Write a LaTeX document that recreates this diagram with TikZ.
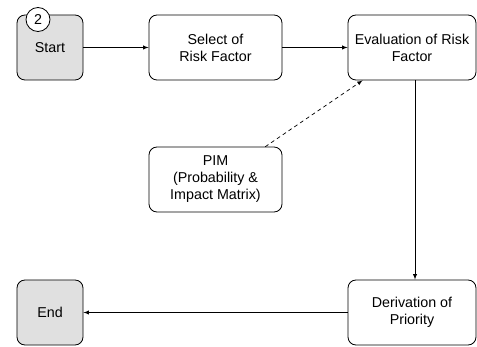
\documentclass[tikz,border=0pt]{standalone}
\usepackage{fontspec}
\setmainfont{Liberation Sans}
\usetikzlibrary{arrows}

\tikzset{
  stepbox/.style={draw, rounded corners=0.24cm, line width=0.7pt, fill=white,
    align=center, minimum height=1.95cm, font=\fontsize{12.2}{14.5}\selectfont},
  termbox/.style={stepbox, fill=termgray, minimum width=1.98cm},
  flow/.style={->, line width=0.6pt}
}
\definecolor{termgray}{RGB}{224,224,224}

\begin{document}
\begin{tikzpicture}[line cap=round, line join=round, >=latex, x=0.03cm, y=-0.03cm]

  % Khung ảnh
  \useasboundingbox (0,0) rectangle (477,347);

  % Các khối hàng trên
  \node[termbox] (start) at (50,47.5) {Start};
  \node[stepbox, minimum width=3.99cm] (select) at (215.5,47.5) {Select of\\Risk Factor};
  \node[stepbox, minimum width=3.84cm] (eval) at (412,47.5) {Evaluation of Risk\\Factor};

  % Số thứ tự
  \node[draw, circle, line width=0.7pt, fill=white, minimum size=0.72cm, inner sep=0pt,
    font=\fontsize{12.2}{14}\selectfont] (num) at (38,19.5) {2};

  % Ma trận PIM
  \node[stepbox, minimum width=3.99cm] (pim) at (215.5,179.5) {PIM\\(Probability \&\\Impact Matrix)};

  % Các khối hàng dưới
  \node[termbox] (end) at (50,312.5) {End};
  \node[stepbox, minimum width=3.84cm] (deriv) at (412,312.5) {Derivation of\\Priority};

  % Mũi tên
  \draw[flow] (start) -- (select);
  \draw[flow] (select) -- (eval);
  \draw[flow, dashed] ([xshift=-0.51cm]pim.north east) -- ([xshift=0.45cm]eval.south west);
  \draw[flow] ([xshift=0.09cm]eval.south) -- ([xshift=0.09cm]deriv.north);
  \draw[flow] (deriv) -- (end);

\end{tikzpicture}
\end{document}
